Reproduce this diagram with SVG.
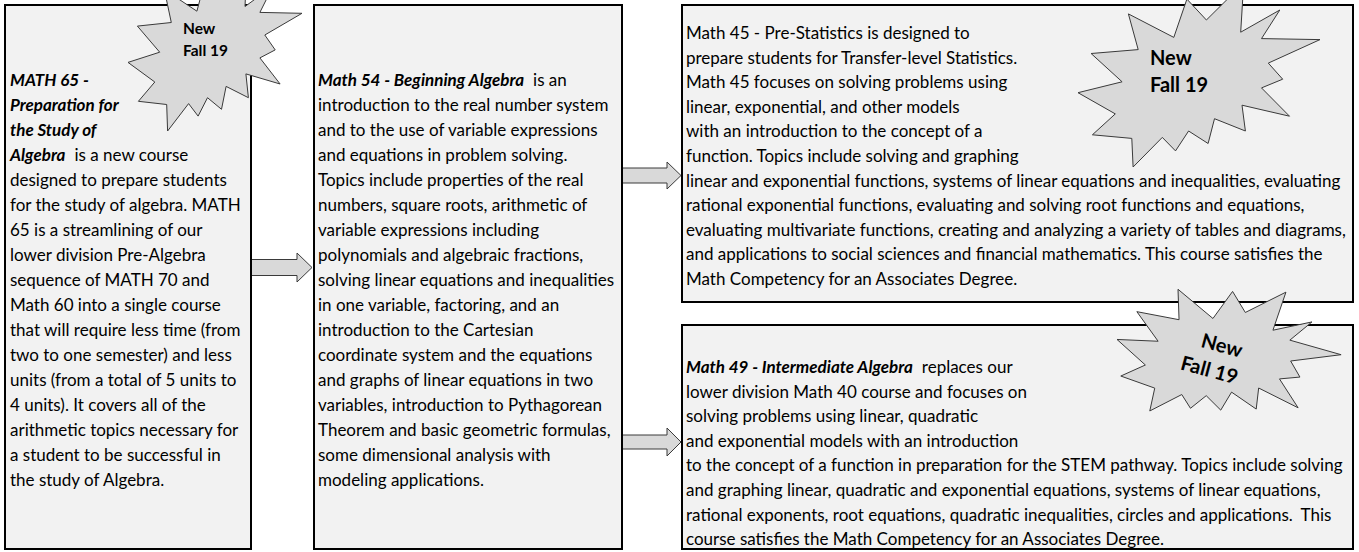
<svg xmlns="http://www.w3.org/2000/svg" width="1359" height="552" viewBox="0 0 1359 552">
<style>
.box{fill:#f2f2f2;stroke:#000;stroke-width:2}
.t{font-family:Lato,'Liberation Sans',sans-serif;font-size:17px;fill:#000}
.bi{font-weight:bold;font-style:italic}
.burst{fill:#d9d9d9;stroke:#3a3a3a;stroke-width:1}
.bt{font-family:Lato,'Liberation Sans',sans-serif;font-weight:bold;fill:#000}
.arrow{fill:#d9d9d9;stroke:#3a3a3a;stroke-width:1}
</style>
<rect width="1359" height="552" fill="#fff"/>
<g id="connectors">
<polygon class="arrow" points="251,259.5 297,259.5 297,253 312,267.5 297,282 297,275.5 251,275.5"/>
<polygon class="arrow" points="621,168 667,168 667,162 681,175.5 667,189 667,183 621,183"/>
<polygon class="arrow" points="621,435 667,435 667,428 681,442 667,456 667,449 621,449"/>
</g>
<g id="math65">
<rect class="box" x="5" y="5" width="246" height="544"/>
<text class="t" x="10" y="86"><tspan class="bi">MATH 65 -</tspan></text>
<text class="t" x="10" y="111"><tspan class="bi">Preparation for</tspan></text>
<text class="t" x="10" y="136"><tspan class="bi">the Study of</tspan></text>
<text class="t" x="10" y="161"><tspan class="bi">Algebra</tspan><tspan dx="9">is a new course</tspan></text>
<text class="t" x="10" y="186">designed to prepare students</text>
<text class="t" x="10" y="211">for the study of algebra. MATH</text>
<text class="t" x="10" y="236">65 is a streamlining of our</text>
<text class="t" x="10" y="261">lower division Pre-Algebra</text>
<text class="t" x="10" y="286">sequence of MATH 70 and</text>
<text class="t" x="10" y="311">Math 60 into a single course</text>
<text class="t" x="10" y="336">that will require less time (from</text>
<text class="t" x="10" y="361">two to one semester) and less</text>
<text class="t" x="10" y="386">units (from a total of 5 units to</text>
<text class="t" x="10" y="411">4 units). It covers all of the</text>
<text class="t" x="10" y="436">arithmetic topics necessary for</text>
<text class="t" x="10" y="461">a student to be successful in</text>
<text class="t" x="10" y="486">the study of Algebra.</text>
</g>
<g id="math54">
<rect class="box" x="314" y="5" width="308" height="544"/>
<text class="t" x="318" y="86"><tspan class="bi">Math 54 - Beginning Algebra</tspan><tspan dx="9">is an</tspan></text>
<text class="t" x="318" y="111">introduction to the real number system</text>
<text class="t" x="318" y="136">and to the use of variable expressions</text>
<text class="t" x="318" y="161">and equations in problem solving.</text>
<text class="t" x="318" y="186">Topics include properties of the real</text>
<text class="t" x="318" y="211">numbers, square roots, arithmetic of</text>
<text class="t" x="318" y="236">variable expressions including</text>
<text class="t" x="318" y="261">polynomials and algebraic fractions,</text>
<text class="t" x="318" y="286">solving linear equations and inequalities</text>
<text class="t" x="318" y="311">in one variable, factoring, and an</text>
<text class="t" x="318" y="336">introduction to the Cartesian</text>
<text class="t" x="318" y="361">coordinate system and the equations</text>
<text class="t" x="318" y="386">and graphs of linear equations in two</text>
<text class="t" x="318" y="411">variables, introduction to Pythagorean</text>
<text class="t" x="318" y="436">Theorem and basic geometric formulas,</text>
<text class="t" x="318" y="461">some dimensional analysis with</text>
<text class="t" x="318" y="486">modeling applications.</text>
</g>
<g id="math45">
<rect class="box" x="682" y="5" width="671" height="297"/>
<text class="t" x="686" y="39">Math 45 - Pre-Statistics is designed to</text>
<text class="t" x="686" y="63.6">prepare students for Transfer-level Statistics.</text>
<text class="t" x="686" y="88.2">Math 45 focuses on solving problems using</text>
<text class="t" x="686" y="112.8">linear, exponential, and other models</text>
<text class="t" x="686" y="137.4">with an introduction to the concept of a</text>
<text class="t" x="686" y="162">function. Topics include solving and graphing</text>
<text class="t" x="686" y="186.6">linear and exponential functions, systems of linear equations and inequalities, evaluating</text>
<text class="t" x="686" y="211.2">rational exponential functions, evaluating and solving root functions and equations,</text>
<text class="t" x="686" y="235.8">evaluating multivariate functions, creating and analyzing a variety of tables and diagrams,</text>
<text class="t" x="686" y="260.4">and applications to social sciences and financial mathematics. This course satisfies the</text>
<text class="t" x="686" y="285">Math Competency for an Associates Degree.</text>
</g>
<g id="math49">
<rect class="box" x="682" y="325" width="671" height="224"/>
<text class="t" x="686" y="373"><tspan class="bi">Math 49 - Intermediate Algebra</tspan><tspan dx="9">replaces our</tspan></text>
<text class="t" x="686" y="397.6">lower division Math 40 course and focuses on</text>
<text class="t" x="686" y="422.2">solving problems using linear, quadratic</text>
<text class="t" x="686" y="446.8">and exponential models with an introduction</text>
<text class="t" x="686" y="471.4">to the concept of a function in preparation for the STEM pathway. Topics include solving</text>
<text class="t" x="686" y="496">and graphing linear, quadratic and exponential equations, systems of linear equations,</text>
<text class="t" x="686" y="520.6">rational exponents, root equations, quadratic inequalities, circles and applications.<tspan dx="9">This</tspan></text>
<text class="t" x="686" y="545.2">course satisfies the Math Competency for an Associates Degree.</text>
</g>
<g id="burst1">
<polygon class="burst" points="220.3,-4.8 247.1,-39 245,6.5 273.1,-14 259.9,12.4 302,13.3 264.8,35 275.2,49.9 259.9,57.9 280.1,84 245.9,73.9 248.4,97.7 226.1,86.4 221.5,109.3 207.5,97.7 198.1,116.1 188.6,103.6 167.6,131 166.7,104.5 138.4,101.3 154.8,82 128,62.4 159.7,52.2 137.4,26.1 171.3,22.5 164.3,-10.5 196.9,11.2 206.3,-24.1"/>
<text class="bt" x="183" y="34" font-size="15.5">New</text>
<text class="bt" x="183" y="56" font-size="15.5">Fall 19</text>
</g>
<g id="burst2">
<polygon class="burst" points="1206.4,20 1243.7,-17 1240.7,32.2 1279.8,10 1261.5,38.6 1320,39.6 1268.3,63.1 1282.7,79.2 1261.5,87.9 1289.5,116.2 1242,105.2 1245.4,131 1214.5,118.7 1208.1,143.5 1188.6,131 1175.5,150.9 1162.3,137.4 1133.1,167 1131.8,138.4 1092.4,134.8 1115.3,113.9 1078,92.7 1122.1,81.8 1091.1,53.5 1138.2,49.6 1128.4,13.9 1173.8,37.4 1186.9,-0.9"/>
<text class="bt" x="1150" y="65" font-size="20">New</text>
<text class="bt" x="1150" y="92" font-size="20">Fall 19</text>
</g>
<g id="burst3" transform="translate(1227,354) rotate(15)">
<polygon class="burst" transform="translate(-110,-75) scale(0.2204,0.15)" vector-effect="non-scaling-stroke" points="530.6,201 684.7,0 672.5,267.5 833.7,146.9 758.3,302.4 1000,307.6 786.3,435.3 845.8,522.7 758.3,569.9 873.9,723.7 677.8,664.4 691.8,804.2 563.9,737.7 537.6,872.3 457,804.2 402.8,912.6 348.5,839.1 227.6,1000 222.5,844.4 59.5,825.2 154.2,711.6 0,596.2 182.2,536.7 54.3,382.9 248.7,361.9 208.4,167.8 395.8,295.5 450.1,87.4"/>
<text class="bt" x="-28" y="0" font-size="20">New</text>
<text class="bt" x="-42" y="27" font-size="20">Fall 19</text>
</g>
</svg>
